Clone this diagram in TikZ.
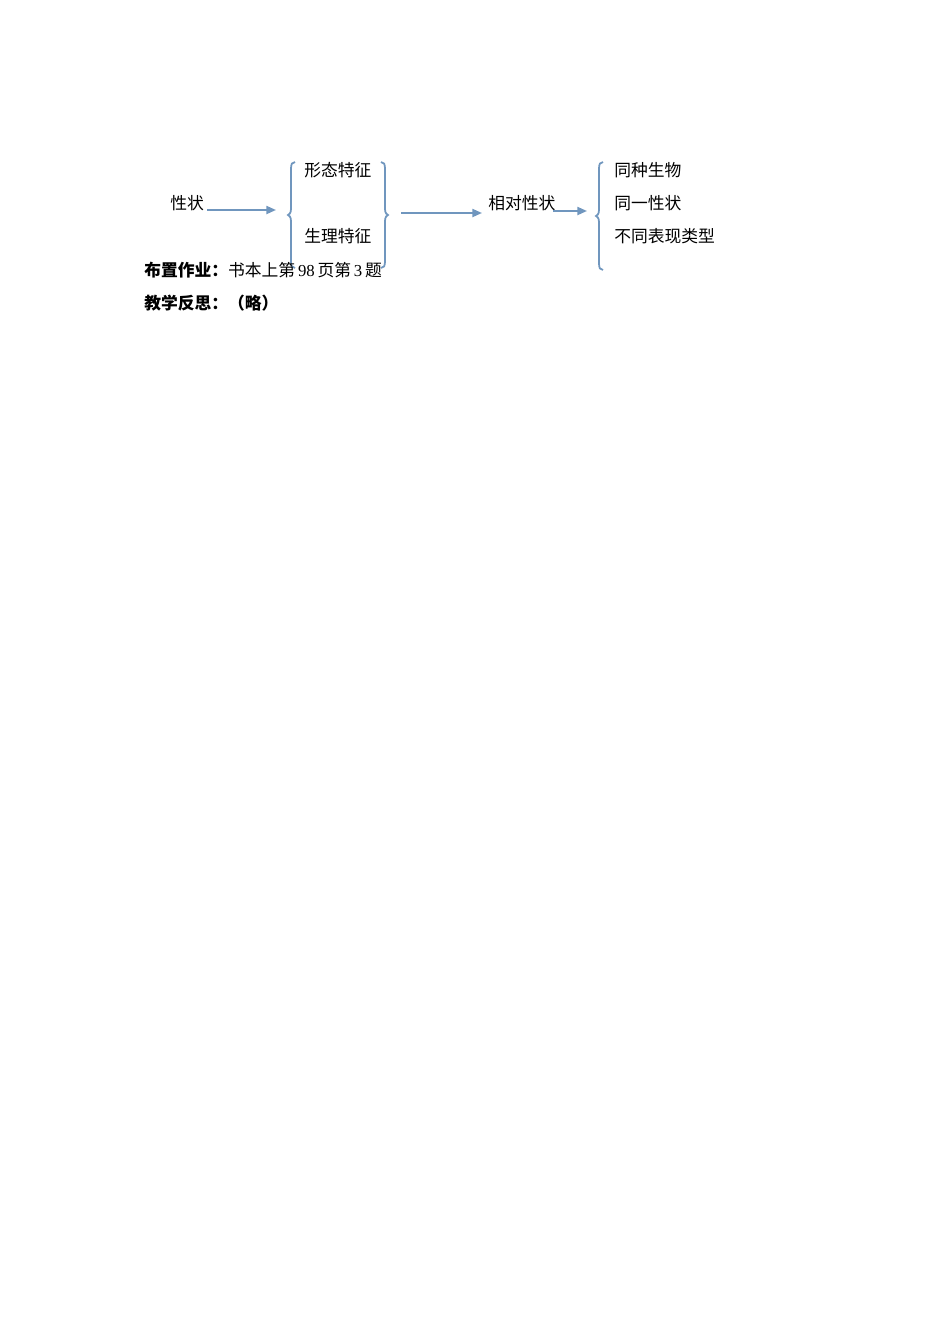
\documentclass[tikz,border=0pt]{standalone}
\usepackage{fontspec}
\setmainfont{Liberation Serif}
\newfontfamily\cjk{Noto Sans CJK SC}
\usetikzlibrary{arrows.meta}

\definecolor{wordblue}{HTML}{7096BE}

% curly brace: #1 = x of the tip, #2 = top, #3 = bottom, #4 = +1 opens right, -1 opens left
\newcommand{\brc}[4]{%
  \pgfmathsetmacro{\bm}{(#2+#3)/2}
  \draw[brc] (#1+7*#4,#2) .. controls (#1+4*#4,#2) and (#1+3*#4,#2+2) .. (#1+3*#4,#2+7)
    -- (#1+3*#4,\bm-6) .. controls (#1+3*#4,\bm-2) and (#1+1*#4,\bm) .. (#1,\bm)
    .. controls (#1+1*#4,\bm) and (#1+3*#4,\bm+2) .. (#1+3*#4,\bm+6)
    -- (#1+3*#4,#3-7) .. controls (#1+3*#4,#3-2) and (#1+4*#4,#3) .. (#1+7*#4,#3);
}

\begin{document}
\begin{tikzpicture}[x=0.6263pt,y=-0.6263pt,font=\cjk\fontsize{10.5pt}{12pt}\selectfont,
    >={Triangle[length=6pt,width=5pt]},
    arr/.style={->,draw=wordblue,line width=1.2pt},
    brc/.style={draw=wordblue,line width=1.1pt},
    txt/.style={inner sep=0pt,anchor=west}]
   \useasboundingbox (0,0) rectangle (950,1344);

   % first group
   \node[txt] (xz)   at (170,203) {性状};
   \node[txt] (xtfz) at (304,170) {形态特征};
   \node[txt] (slfz) at (304,236) {生理特征};
   \brc{288}{162}{268}{1}
   \brc{388}{162}{268}{-1}

   % second group
   \node[txt] (xdxz) at (488,203) {相对性状};
   \node[txt] (tzsw) at (614,170) {同种生物};
   \node[txt] (tyxz) at (614,203) {同一性状};
   \node[txt] (btbx) at (614,236) {不同表现类型};
   \brc{596}{162}{270}{1}

   \coordinate (a1s) at (207,210);
   \coordinate (a1e) at (276,210);
   \coordinate (a2s) at (401,213);
   \coordinate (a2e) at (482,213);
   \coordinate (a3s) at (553,211);
   \coordinate (a3e) at (587,211);
   \draw[arr] (a1s) -- (a1e);
   \draw[arr] (a2s) -- (a2e);
   \draw[arr] (a3s) -- (a3e);

   % homework lines
   \node[txt] (zy) at (144,270) {\textbf{布置作业：}书本上第\,{\rmfamily 98}\,页第\,{\rmfamily 3}\,题};
   \node[txt] (fs) at (144,303) {\textbf{教学反思：（略）}};
\end{tikzpicture}
\end{document}
